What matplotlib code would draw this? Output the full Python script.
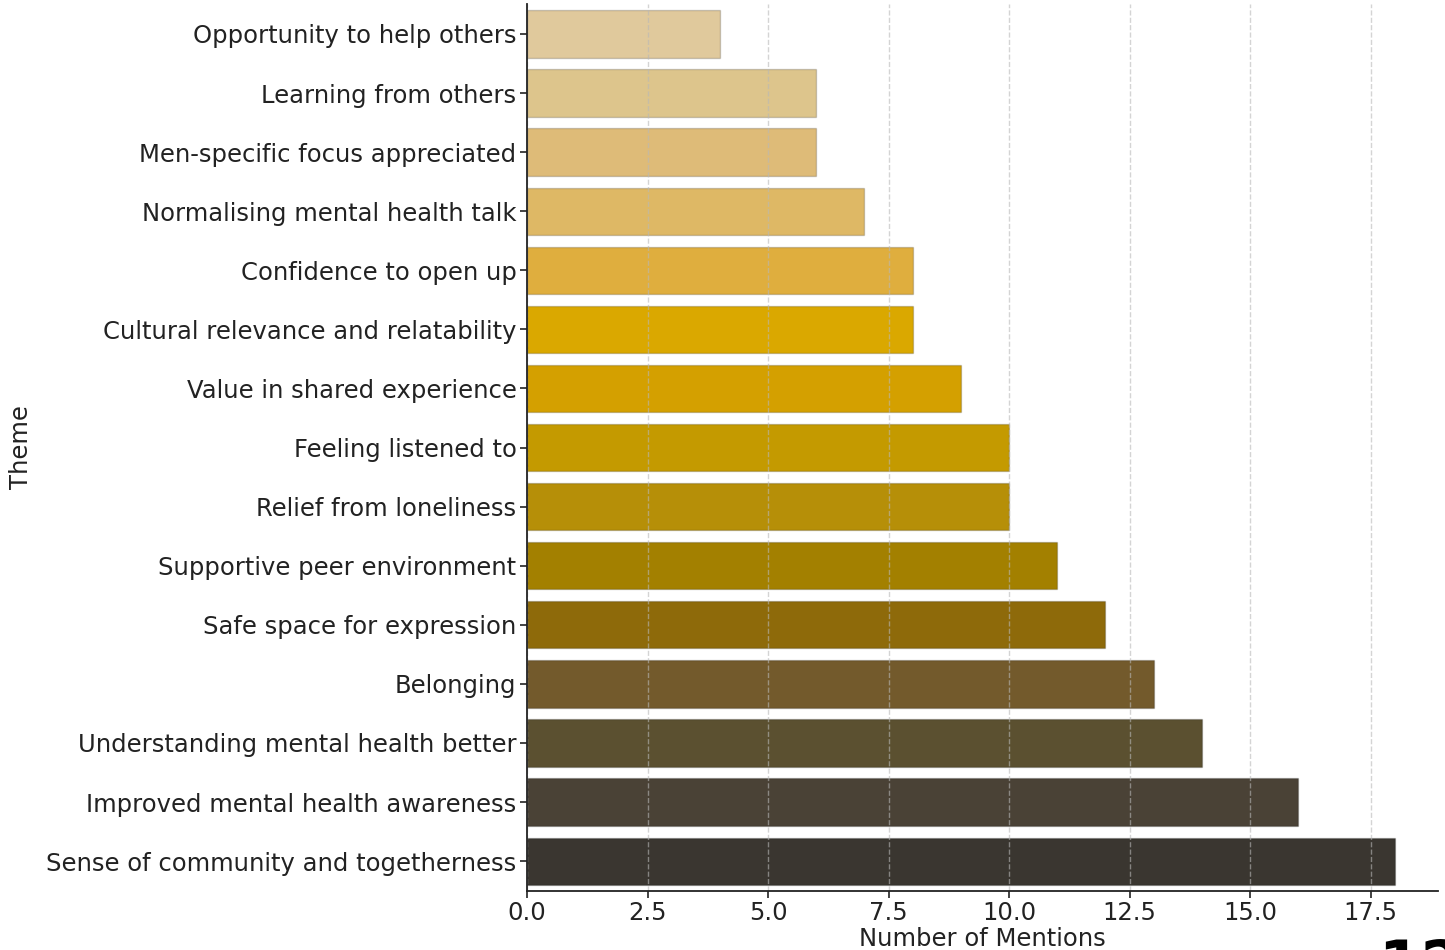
import matplotlib
matplotlib.use("Agg")
import matplotlib.pyplot as plt

themes = [
    "Opportunity to help others",
    "Learning from others",
    "Men-specific focus appreciated",
    "Normalising mental health talk",
    "Confidence to open up",
    "Cultural relevance and relatability",
    "Value in shared experience",
    "Feeling listened to",
    "Relief from loneliness",
    "Supportive peer environment",
    "Safe space for expression",
    "Belonging",
    "Understanding mental health better",
    "Improved mental health awareness",
    "Sense of community and togetherness",
]
mentions = [4, 6, 6, 7, 8, 8, 9, 10, 10, 11, 12, 13, 14, 16, 18]
colors = [
    "#e0c99c", "#ddc58c", "#debb78", "#deb865", "#dfae3e",
    "#daa800", "#d4a000", "#c49a00", "#b68f08", "#a38000",
    "#8e6a0a", "#735a2c", "#5b5030", "#4a4236", "#3a3630",
]
xticks = [0.0, 2.5, 5.0, 7.5, 10.0, 12.5, 15.0, 17.5]

text_color = "#222222"
fs = 17.5
plt.rcParams["font.family"] = ["DejaVu Sans"]

fig = plt.figure(figsize=(14.45, 9.5), dpi=100)
ax = fig.add_axes([527 / 1445, 1 - 890.7 / 950, (1438 - 527) / 1445, (890.7 - 4.4) / 950])

y = list(range(len(themes)))
ax.barh(y, mentions, height=0.8, color=colors, edgecolor=(0, 0, 0, 0.18), linewidth=1.0)
ax.set_ylim(len(themes) - 0.5, -0.5)
ax.set_xlim(0, 18.9)
ax.set_yticks(y)
ax.set_yticklabels(themes, fontsize=fs, color=text_color)
ax.set_xticks(xticks)
ax.set_xticklabels([f"{t:.1f}" for t in xticks], fontsize=fs, color=text_color)
ax.tick_params(axis="y", pad=2.5)
ax.tick_params(axis="x", pad=2.5)
ax.tick_params(axis="both", colors="#222222", labelcolor=text_color, length=5, width=1.2)

ax.grid(axis="x", linestyle="--", color="#b8b8b8", alpha=0.6, linewidth=1)
ax.grid(axis="y", visible=False)
for side in ["top", "right"]:
    ax.spines[side].set_visible(False)
for side in ["left", "bottom"]:
    ax.spines[side].set_color("#222222")
    ax.spines[side].set_linewidth(1.3)

ax.set_xlabel("Number of Mentions", fontsize=fs, color=text_color, labelpad=1)
ax.set_ylabel("Theme", fontsize=fs, color=text_color)
ax.yaxis.set_label_coords(-0.542, 0.5)

fig.text(1378 / 1445, 1 - 938 / 950, "12", fontsize=44, fontweight="bold", color="black",
         ha="left", va="top")

fig.savefig("out.png", dpi=100, facecolor="white")
